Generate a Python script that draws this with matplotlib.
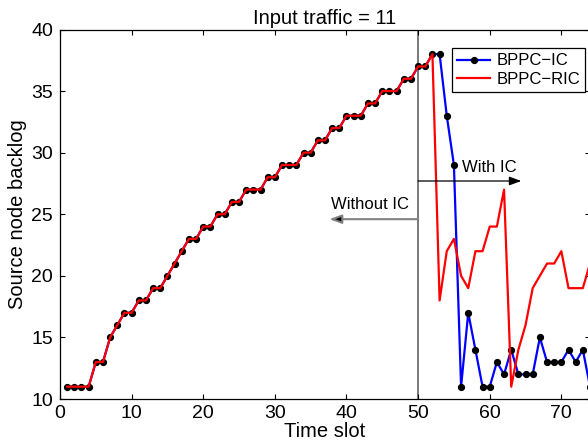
import numpy as np
import matplotlib
matplotlib.use("Agg")
import matplotlib.pyplot as plt

plt.rcParams['font.family'] = ['Liberation Sans', 'DejaVu Sans']

# shared ramp, time slots 1..52 (both schemes identical before IC kicks in)
ramp = [11, 11, 11, 11, 13, 13, 15, 16, 17, 17, 18, 18, 19, 19, 20, 21, 22,
        23, 23, 24, 24, 25, 25, 26, 26, 27, 27, 27, 28, 28, 29, 29, 29,
        30, 30, 31, 31, 32, 32, 33, 33, 33, 34, 34, 35, 35, 35, 36, 36,
        37, 37, 38]
ic_tail = [38, 33, 29, 11, 17, 14, 11, 11, 13, 12, 14, 12, 12, 12, 15,
           13, 13, 13, 14, 13, 14, 11]
ric_tail = [18, 22, 23, 20, 19, 22, 22, 24, 24, 27, 11, 14, 16, 19, 20,
            21, 21, 22, 19, 19, 19, 21]

bppc_ic = ramp + ic_tail
bppc_ric = ramp + ric_tail
slots = np.arange(1, len(bppc_ic) + 1)

fig = plt.figure(figsize=(5.88, 4.43), dpi=100)
ax = fig.add_axes([60 / 588, 44 / 443, 530 / 588, 369.5 / 443])

ax.plot(slots, bppc_ic, color='blue', lw=1.6, marker='o', ms=4.2,
        mfc='black', mec='black', label='BPPC\u2212IC', clip_on=False)
ax.plot(slots, bppc_ric, color='red', lw=1.6, label='BPPC\u2212RIC')

ax.axvline(50, color='#707070', lw=1.3, zorder=1)

ax.annotate('', xy=(37.6, 24.6), xytext=(50, 24.6),
            arrowprops=dict(arrowstyle='-|>,head_length=0.6,head_width=0.22',
                            mutation_scale=12, edgecolor='#808080', lw=1.5,
                            facecolor='black', shrinkA=0, shrinkB=0))
ax.text(37.8, 25.8, 'Without IC', fontsize=12, va='center', ha='left')

ax.annotate('', xy=(64.4, 27.7), xytext=(50, 27.7),
            arrowprops=dict(arrowstyle='-|>,head_length=0.6,head_width=0.22',
                            mutation_scale=12, color='black', lw=0.9,
                            shrinkA=0, shrinkB=0))
ax.text(56.1, 28.8, 'With IC', fontsize=12, va='center', ha='left')

ax.set_xlim(0, 74)
ax.set_ylim(10, 40)
ax.set_xticks(np.arange(0, 71, 10))
ax.set_yticks(np.arange(10, 41, 5))
ax.tick_params(direction='in', top=True, right=True, length=3.6, width=0.8,
               labelsize=14)
ax.tick_params(axis='y', pad=5)
ax.tick_params(axis='x', pad=4)
for s in ax.spines.values():
    s.set_linewidth(0.9)

ax.set_xlabel('Time slot', fontsize=14.5, labelpad=0)
ax.set_ylabel('Source node backlog', fontsize=14.5, labelpad=3)
ax.set_title('Input traffic = 11', fontsize=14.5, pad=4)

leg = ax.legend(loc='upper right', bbox_to_anchor=(0.9906, 0.949),
                borderaxespad=0, fontsize=12, fancybox=False,
                edgecolor='black', framealpha=1, handlelength=2.0,
                handletextpad=0.35, labelspacing=0.2, borderpad=0.3)
leg.get_frame().set_linewidth(0.9)

fig.savefig('out.png', dpi=100)
